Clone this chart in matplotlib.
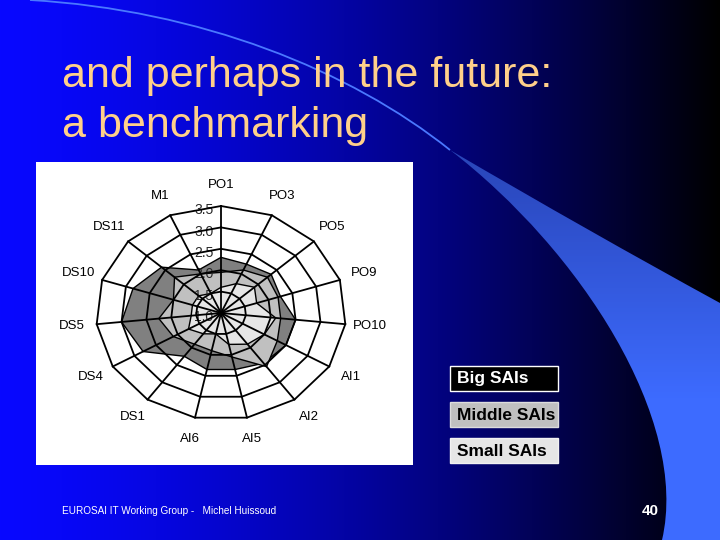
import matplotlib
matplotlib.use("Agg")
import matplotlib.pyplot as plt
import numpy as np
from matplotlib.path import Path
from matplotlib.patches import PathPatch, Rectangle

plt.rcParams["font.family"] = ["Liberation Sans", "DejaVu Sans"]

# --- data ---
spoke_labels = ["PO1", "PO3", "PO5", "PO9", "PO10", "AI1", "AI2", "AI5",
                "AI6", "DS1", "DS4", "DS5", "DS10", "DS11", "M1"]
big_sais = [2.3, 2.25, 2.35, 2.25, 2.5, 2.5, 2.45, 2.35, 2.35, 2.25, 2.8, 3.0, 2.85, 2.6, 2.1]
middle_sais = [1.95, 2.1, 2.25, 2.2, 2.2, 2.3, 2.55, 2.05, 1.9, 1.9, 2.1, 2.25, 2.0, 2.25, 2.0]
small_sais = [1.6, 1.75, 1.9, 1.75, 2.1, 2.0, 1.9, 1.75, 1.5, 1.6, 1.75, 1.6, 1.6, 1.6, 1.5]
ring_values = [1.0, 1.5, 2.0, 2.5, 3.0, 3.5]
ring_labels = ["1.0", "1.5", "2.0", "2.5", "3.0", "3.5"]
series_names = ["Big SAIs", "Middle SAIs", "Small SAIs"]
series_colors = ["#808080", "#c0c0c0", "#e6e6e6"]

r_min, r_max = 1.0, 3.5

fig = plt.figure(figsize=(7.2, 5.4), dpi=100)

# --- slide background (pixel coordinates) ---
bg = fig.add_axes([0, 0, 1, 1])
bg.set_xlim(0, 720)
bg.set_ylim(540, 0)
bg.axis("off")

t = np.linspace(0, 1, 720)
grad = np.zeros((1, 720, 3))
grad[0, :, 0] = 0.03 * (1 - t)
grad[0, :, 1] = 0.03 * (1 - t)
grad[0, :, 2] = np.clip(1 - t ** 1.4, 0, 1)
bg.imshow(grad, extent=(0, 720, 540, 0), aspect="auto", zorder=0)

# swoosh
verts = [(450, 150), (580, 250), (690, 420), (662, 540), (720, 540), (720, 303),
         (590, 232), (450, 150), (450, 150)]
codes = [Path.MOVETO, Path.CURVE4, Path.CURVE4, Path.CURVE4, Path.LINETO, Path.LINETO,
         Path.CURVE3, Path.CURVE3, Path.CLOSEPOLY]
swoosh = PathPatch(Path(verts, codes), facecolor="none", edgecolor="none")
bg.add_patch(swoosh)
yy = np.clip((np.linspace(0, 540, 270) - 150) / 250, 0, 1)
c0, c1 = np.array([0.16, 0.27, 0.72]), np.array([0.24, 0.42, 1.0])
sgrad = (c0[None, :] * (1 - yy[:, None]) + c1[None, :] * yy[:, None])[:, None, :]
img = bg.imshow(sgrad, extent=(0, 720, 540, 0), aspect="auto", zorder=1)
img.set_clip_path(swoosh)

line = Path([(30, 0), (200, 10), (350, 70), (450, 150)],
            [Path.MOVETO, Path.CURVE4, Path.CURVE4, Path.CURVE4])
bg.add_patch(PathPatch(line, facecolor="none", edgecolor="#4a78ff", lw=1.3, zorder=2))

# title
title_color = "#ffd08a"
bg.text(62, 87, "and perhaps in the future:", color=title_color, fontsize=31, va="baseline", zorder=3)
bg.text(62, 137, "a benchmarking", color=title_color, fontsize=31, va="baseline", zorder=3)

# legend boxes
box_fc = ["black", "#c0c0c0", "#e6e6e6"]
box_ec = ["white", "#dddddd", "#f2f2f2"]
box_tc = ["white", "black", "black"]
box_top = [366, 402, 438]
for name, fc, ec, tc, top in zip(series_names, box_fc, box_ec, box_tc, box_top):
    bg.add_patch(Rectangle((450, top), 108, 25, facecolor=fc, edgecolor=ec, lw=1, zorder=3))
    bg.text(457, top + 13, name, color=tc, fontsize=12.5, fontweight="bold",
            va="center", ha="left", zorder=4)

# footer
bg.text(62, 511, "EUROSAI IT Working Group -   Michel Huissoud", color="white",
        fontsize=7.2, va="center", zorder=3)
bg.text(659, 511, "40", color="white", fontsize=11, fontweight="bold",
        ha="right", va="center", zorder=3)

# --- radar chart ---
ax = fig.add_axes([36 / 720, 75 / 540, 377 / 720, 303 / 540])
ax.set_facecolor("white")
ax.set_xlim(-185 / 125, 192 / 125)
ax.set_ylim(-152 / 107, 151 / 107)
ax.set_aspect("auto")
for s in ax.spines.values():
    s.set_visible(False)
ax.set_xticks([])
ax.set_yticks([])

n = len(spoke_labels)
theta = np.pi / 2 - 2 * np.pi * np.arange(n) / n


def to_xy(values):
    f = (np.asarray(values, dtype=float) - r_min) / (r_max - r_min)
    x = f * np.cos(theta)
    y = f * np.sin(theta)
    return np.append(x, x[0]), np.append(y, y[0])


for vals, col, name in zip([big_sais, middle_sais, small_sais], series_colors, series_names):
    x, y = to_xy(vals)
    ax.fill(x, y, facecolor=col, edgecolor="black", lw=1.0, zorder=1, label=name)

# grid rings and spokes
for rv in ring_values[1:]:
    x, y = to_xy([rv] * n)
    ax.plot(x, y, color="black", lw=1.3, zorder=3)
for th in theta:
    ax.plot([0, np.cos(th)], [0, np.sin(th)], color="black", lw=1.3, zorder=3)

for rv, lab in zip(ring_values, ring_labels):
    f = (rv - r_min) / (r_max - r_min)
    ax.text(-0.06, f - 0.04, lab, ha="right", va="center", fontsize=10,
            color="#2a2a2a", zorder=2.5)

for th, lab in zip(theta, spoke_labels):
    ax.text(1.2 * np.cos(th), 1.2 * np.sin(th), lab, ha="center", va="center",
            fontsize=9.5, color="black")

fig.savefig("out.png", dpi=100)
